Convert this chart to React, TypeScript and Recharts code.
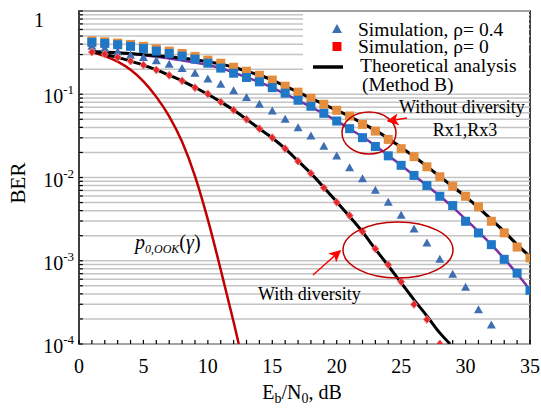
import React from "react";
import {
  ComposedChart,
  Line,
  Scatter,
  XAxis,
  YAxis,
  ReferenceLine,
  ReferenceArea,
} from "recharts";

// Eb/N0 in dB, one simulated point per dB
const snrDb = [
  1, 2, 3, 4, 5, 6, 7, 8, 9, 10, 11, 12, 13, 14, 15, 16, 17, 18, 19, 20, 21,
  22, 23, 24, 25, 26, 27, 28, 29, 30, 31, 32, 33, 34, 35,
];

// without diversity (orange squares, upper receiver)
const noDivRxA = [
  0.439, 0.427, 0.412, 0.397, 0.376, 0.351, 0.33, 0.309, 0.285, 0.257, 0.236,
  0.211, 0.189, 0.169, 0.148, 0.125, 0.106, 0.0895, 0.0758, 0.0642, 0.0548,
  0.0435, 0.0361, 0.0287, 0.0222, 0.0178, 0.01345, 0.0102, 0.00785, 0.00595,
  0.00444, 0.00298, 0.00216, 0.00146, 0.00108,
];

// without diversity (blue squares)
const noDivRxB = [
  0.42, 0.408, 0.393, 0.376, 0.355, 0.33, 0.309, 0.287, 0.264, 0.236, 0.206,
  0.179, 0.159, 0.141, 0.12, 0.103, 0.0847, 0.0717, 0.059, 0.0477, 0.0386,
  0.0301, 0.0236, 0.0182, 0.014, 0.0106, 0.008, 0.00595, 0.0046, 0.00298,
  0.00216, 0.00156, 0.00104, 0.00071, 0.000441,
];

// with diversity, rho = 0.4 (triangles), 1..32 dB
const divRho04 = [
  0.376, 0.355, 0.323, 0.295, 0.277, 0.252, 0.23, 0.204, 0.179, 0.152, 0.132,
  0.11, 0.0913, 0.0758, 0.0629, 0.05, 0.0395, 0.0315, 0.0238, 0.0181, 0.0131,
  0.00964, 0.00703, 0.00504, 0.00353, 0.00241, 0.00163, 0.00104, 0.000688,
  0.000482, 0.000257, 0.000169,
];

// with diversity, rho = 0 (red diamonds), 1..28 dB
const divRho0 = [
  0.321, 0.303, 0.277, 0.25, 0.224, 0.196, 0.169, 0.145, 0.12, 0.101, 0.0808,
  0.0645, 0.05, 0.0386, 0.0301, 0.0222, 0.0157, 0.0112, 0.00751, 0.00504,
  0.00349, 0.00224, 0.00139, 0.000895, 0.000558, 0.000299, 0.000197, 0.0001,
];

// theory curves
const theoryNoDivA = [
  0.325, 0.321, 0.316, 0.308, 0.299, 0.291, 0.283, 0.272, 0.26, 0.246, 0.23,
  0.211, 0.189, 0.169, 0.148, 0.125, 0.106, 0.0895, 0.0758, 0.0642, 0.0543,
  0.0447, 0.0368, 0.0295, 0.023, 0.0179, 0.0136, 0.0103, 0.00779, 0.0059,
  0.00435, 0.00312, 0.00224, 0.00156, 0.00112,
];
const theoryNoDivB = [
  0.325, 0.321, 0.315, 0.305, 0.295, 0.283, 0.269, 0.255, 0.24, 0.224, 0.206,
  0.182, 0.16, 0.14, 0.12, 0.101, 0.0847, 0.0707, 0.0582, 0.0479, 0.0384,
  0.0308, 0.024, 0.0184, 0.014, 0.0106, 0.008, 0.006, 0.00441, 0.00316,
  0.00224, 0.00156, 0.00106, 0.000697, 0.000447,
];
const theoryDivX = [
  1, 2, 3, 4, 5, 6, 7, 8, 9, 10, 11, 12, 13, 14, 15, 16, 17, 18, 19, 20, 21,
  22, 23, 24, 25, 26, 27, 28, 28.8,
];
const theoryDiv = [
  0.325, 0.303, 0.277, 0.25, 0.224, 0.196, 0.169, 0.145, 0.121, 0.1, 0.081,
  0.0645, 0.05, 0.0386, 0.0298, 0.0222, 0.0158, 0.0112, 0.0076, 0.0051,
  0.0034, 0.00222, 0.00138, 0.00087, 0.000543, 0.000339, 0.000217, 0.000136,
  0.0001,
];

// p0,OOK(gamma) reference curve
const p0X = [1, 2, 3, 4, 5, 6, 7, 8, 9, 10, 11, 12, 12.4];
const p0Ber = [
  0.321, 0.287, 0.246, 0.197, 0.143, 0.093, 0.0543, 0.0268, 0.0104, 0.00312,
  0.00078, 0.000184, 0.0001,
];

const xTicks = [0, 5, 10, 15, 20, 25, 30, 35];
const yTicks = [1e-4, 1e-3, 1e-2, 1e-1, 1];
const xMinor = [
  1, 2, 3, 4, 6, 7, 8, 9, 11, 12, 13, 14, 16, 17, 18, 19, 21, 22, 23, 24, 26,
  27, 28, 29, 31, 32, 33, 34,
];

const FONT = "'Liberation Serif', 'Times New Roman', serif";

const toRows = (xs: number[], ys: number[]) =>
  ys.map((y, i) => ({ x: xs[i], y }));

// grid at every 1..9 x 10^k
const gridVals: number[] = [];
for (let e = -4; e < 0; e++) {
  for (let m = 1; m <= 9; m++) gridVals.push(m * Math.pow(10, e));
}
gridVals.push(1);

function YTick(props: any) {
  const { x, y, payload } = props;
  const v = payload.value;
  if (v === 1) {
    return (
      <text x={x - 35} y={y + 16} textAnchor="end" fontSize={20} fontFamily={FONT} fill="#000">
        1
      </text>
    );
  }
  const exp = Math.round(Math.log10(v));
  return (
    <text x={x - 5} y={y + 9} textAnchor="end" fontSize={20} fontFamily={FONT} fill="#000">
      10
      <tspan fontSize={13} dy={-9}>
        {exp}
      </tspan>
    </text>
  );
}

function XTick(props: any) {
  const { x, y, payload } = props;
  return (
    <text x={x} y={y + 29} textAnchor="middle" fontSize={20} fontFamily={FONT} fill="#000">
      {payload.value}
    </text>
  );
}

const squareShape = (fill: string) => (p: any) =>
  <rect x={p.cx - 4.5} y={p.cy - 4.5} width={9} height={9} fill={fill} />;

const triangleShape = (p: any) => (
  <polygon
    points={`${p.cx},${p.cy - 4.5} ${p.cx - 4.5},${p.cy + 3.5} ${p.cx + 4.5},${p.cy + 3.5}`}
    fill="#3F6FB3"
  />
);

const diamondShape = (p: any) => (
  <polygon
    points={`${p.cx},${p.cy - 4} ${p.cx + 3.5},${p.cy} ${p.cx},${p.cy + 4} ${p.cx - 3.5},${p.cy}`}
    fill="#E3262A"
    stroke="#F08080"
    strokeWidth={1}
  />
);

function Overlay() {
  const t = { fontFamily: FONT, fontSize: 18, fill: "#000" } as const;
  const lg = { fontFamily: FONT, fontSize: 19.5, fill: "#000" } as const;
  return (
    <svg
      width={541}
      height={409}
      style={{ position: "absolute", left: 0, top: 0, pointerEvents: "none" }}
    >
      <defs>
        <marker id="ah" markerWidth="8" markerHeight="8" refX="7" refY="4" orient="auto">
          <path d="M0,0 L8,4 L0,8 L2,4 Z" fill="#FF0000" />
        </marker>
      </defs>
      {/* legend */}
      <rect x={303} y={12} width={226} height={80} fill="#fff" />
      <polygon points="337,24 332,33 342,33" fill="#3F6FB3" />
      <rect x={332.5} y={42} width={9} height={9} fill="#FF0000" />
      <line x1={313} y1={67} x2={343} y2={67} stroke="#000" strokeWidth={3.5} />
      <text x={358} y={36} {...lg}>Simulation, ρ= 0.4</text>
      <text x={358} y={53} {...lg}>Simulation, ρ= 0</text>
      <text x={360} y={72} {...lg}>Theoretical analysis</text>
      <text x={362} y={91} {...lg}>(Method B)</text>

      {/* annotations */}
      <text x={399} y={113} {...t}>Without diversity</text>
      <text x={465} y={136} textAnchor="middle" {...t}>Rx1,Rx3</text>
      <ellipse cx={369} cy={133} rx={27} ry={21} fill="none" stroke="#C00000" strokeWidth={1.5} />
      <line x1={407} y1={118} x2={388} y2={121} stroke="#FF0000" strokeWidth={1.5} markerEnd="url(#ah)" />

      <text x={258} y={300} {...t}>With diversity</text>
      <ellipse cx={398} cy={250} rx={55} ry={28} fill="none" stroke="#C00000" strokeWidth={1.5} />
      <line x1={313} y1={275} x2={340} y2={251} stroke="#FF0000" strokeWidth={1.5} markerEnd="url(#ah)" />

      <text x={135} y={249} fontFamily={FONT} fontSize={20} fill="#000">
        <tspan fontStyle="italic">p</tspan>
        <tspan fontStyle="italic" fontSize={12} dy={4}>0,OOK</tspan>
        <tspan dy={-4}>(</tspan>
        <tspan fontStyle="italic">γ</tspan>
        <tspan>)</tspan>
      </text>

      {/* axis titles */}
      <text x={302} y={399} textAnchor="middle" fontFamily={FONT} fontSize={20} fill="#000">
        E<tspan fontSize={14} dy={4}>b</tspan>
        <tspan dy={-4}>/N</tspan>
        <tspan fontSize={14} dy={4}>0</tspan>
        <tspan dy={-4}>, dB</tspan>
      </text>
      <text
        transform="translate(25,183) rotate(-90)"
        textAnchor="middle"
        fontFamily={FONT}
        fontSize={21}
        fill="#000"
      >
        BER
      </text>
    </svg>
  );
}

export default function App() {
  return (
    <div style={{ position: "absolute", left: 0, top: 0, width: 541, height: 409, background: "#fff" }}>
      <ComposedChart
        width={541}
        height={409}
        margin={{ top: 11, right: 11, left: 0, bottom: 25 }}
      >
        <XAxis
          type="number"
          dataKey="x"
          domain={[0, 35]}
          ticks={xTicks}
          height={40}
          axisLine={false}
          tickLine={false}
          tickSize={0}
          tickMargin={0}
          tick={<XTick />}
          allowDataOverflow
        />
        <YAxis
          type="number"
          dataKey="y"
          scale="log"
          domain={[1e-4, 1]}
          ticks={yTicks}
          width={79}
          axisLine={false}
          tickLine={false}
          tickSize={0}
          tickMargin={0}
          tick={<YTick />}
          allowDataOverflow
        />
        {gridVals.map((v) => (
          <ReferenceLine key={"g" + v} y={v} stroke="#c4c4c4" strokeWidth={1.5} />
        ))}
        {gridVals.map((v) => (
          <ReferenceLine
            key={"yt" + v}
            segment={[
              { x: 0, y: v },
              { x: 0.3, y: v },
            ]}
            stroke="#000"
            strokeWidth={1.2}
          />
        ))}
        {xMinor.concat(xTicks).map((v) => (
          <ReferenceLine
            key={"xt" + v}
            segment={[
              { x: v, y: 1e-4 },
              { x: v, y: 1.12e-4 },
            ]}
            stroke="#000"
            strokeWidth={1.2}
          />
        ))}
        <Line
          data={toRows(p0X, p0Ber)}
          dataKey="y"
          type="monotone"
          stroke="#C00000"
          strokeWidth={2.5}
          dot={false}
          isAnimationActive={false}
        />
        <Line
          data={toRows(theoryDivX, theoryDiv)}
          dataKey="y"
          type="monotone"
          stroke="#000"
          strokeWidth={3}
          dot={false}
          isAnimationActive={false}
        />
        <Line
          data={toRows(snrDb, theoryNoDivB)}
          dataKey="y"
          type="monotone"
          stroke="#7B2FA2"
          strokeWidth={2.5}
          dot={false}
          isAnimationActive={false}
        />
        <Line
          data={toRows(snrDb, theoryNoDivA)}
          dataKey="y"
          type="monotone"
          stroke="#000"
          strokeWidth={3}
          dot={false}
          isAnimationActive={false}
        />
        <Scatter
          data={toRows(snrDb, noDivRxA)}
          shape={squareShape("#E48D3E")}
          isAnimationActive={false}
        />
        <Scatter
          data={toRows(snrDb, noDivRxB)}
          shape={squareShape("#1F77C8")}
          isAnimationActive={false}
        />
        <Scatter
          data={toRows(snrDb.slice(0, 32), divRho04)}
          shape={triangleShape}
          isAnimationActive={false}
        />
        <Scatter
          data={toRows(snrDb.slice(0, 28), divRho0)}
          shape={diamondShape}
          isAnimationActive={false}
        />
        <ReferenceArea
          x1={0}
          x2={35}
          y1={1e-4}
          y2={1}
          fill="none"
          stroke="#000"
          strokeWidth={1.5}
        />
      </ComposedChart>
      <Overlay />
    </div>
  );
}
